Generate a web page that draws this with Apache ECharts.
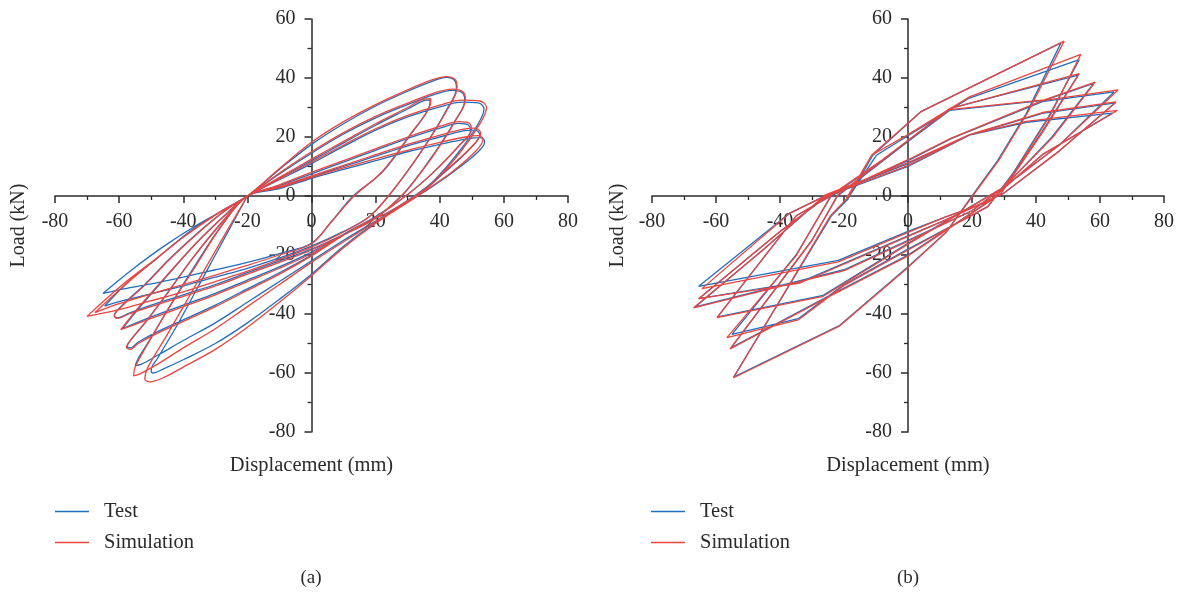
<!DOCTYPE html>
<html>
<head>
<meta charset="utf-8">
<script src="https://cdn.jsdelivr.net/npm/echarts@6/dist/echarts.min.js"></script>
<style>
  html, body { margin: 0; padding: 0; background: #fff; }
  #chart { width: 1184px; height: 597px; }
</style>
</head>
<body>
<div id="chart"></div>
<script>
// ---- data: [displacement mm, load kN] ----
var seriesNames = ['Test', 'Simulation'];
var xTicks = { min: -80, max: 80, step: 20 };
var yTicks = { min: -80, max: 60, step: 20 };

// (a) smooth loops
var testA = [
  [-20,0],[-10,6],[0,12],[10,18],[20,24],[30,29.5],[35,32.3],[37,32.6],[36.8,30.5],[31,21],[22,8],[13,0],[6,-9],[0,-16],[-10,-19.5],[-20,-22.5],[-30,-25],[-40,-27.5],[-50,-29.8],[-60,-31.8],[-65,-33],[-56,-25],[-46,-17],[-36,-10],[-27,-4.5],[-20,0],
  [-10,9],[0,17.5],[10,24.5],[20,30.5],[30,35.5],[38,39],[42,40.2],[44.6,39.2],[45.2,36.5],[42,29],[36,18],[30,8.5],[24,0],[18,-7],[10,-12],[0,-17],[-10,-21],[-20,-24.5],[-30,-27.5],[-40,-30.5],[-50,-33.2],[-60,-35.8],[-64.5,-37.3],[-57,-29],[-48,-21],[-38,-12],[-28,-5],[-20,0],
  [-10,7.5],[0,14.5],[10,21],[20,26.5],[30,31],[38,34.3],[44,35.8],[47,35],[47.8,32.5],[44.5,25],[38,14],[32,5],[28,0],[20,-7.5],[10,-13],[0,-18],[-10,-22],[-20,-26],[-30,-30],[-40,-33.5],[-50,-37],[-57,-39.8],[-60.5,-41.3],[-61.5,-40.5],[-59,-37],[-52,-30],[-44,-21],[-35,-12],[-27,-5],[-20,0],
  [-10,5.5],[0,11],[10,16.8],[20,22.3],[30,26.8],[40,30.2],[47,31.8],[52,31.6],[53.8,29.5],[52,24.5],[46,15],[38,5],[32,0],[24,-5.5],[17,-9],[10,-13],[0,-19],[-10,-24],[-20,-28.5],[-30,-33],[-40,-37],[-50,-41],[-59,-45],[-53,-37],[-45,-27],[-36,-16],[-27,-6.5],[-20,0],
  [-10,3.5],[0,7.5],[10,11.5],[20,15.5],[30,19.5],[40,23],[46,24.6],[49,24],[49.6,22],[46,17],[38,8],[30,0.5],[20,-7],[10,-13],[0,-20],[-10,-26],[-20,-31.5],[-30,-37],[-40,-42],[-48,-46],[-54,-49.5],[-56.5,-51.5],[-57.5,-51],[-56.5,-49],[-52,-43],[-45,-33],[-37,-21],[-28,-9],[-20,0],
  [-10,3],[0,6.5],[10,10],[20,13.5],[30,17],[40,20],[47,22],[51,22.3],[52.5,20.8],[49,15.5],[41,7.5],[33,0],[20,-8.5],[10,-15],[0,-22],[-10,-29],[-20,-36],[-30,-43],[-40,-49],[-48,-54],[-53,-57],[-55,-57.5],[-54,-55],[-50,-48],[-44,-37],[-36,-23],[-28,-10],[-20,0],
  [-10,2.5],[0,6],[10,9],[20,12],[30,15],[40,17.5],[48,19.3],[52.5,19.8],[54,18.5],[52,15],[44,8],[36,2],[33,0],[20,-9],[10,-17],[0,-26.5],[-10,-35],[-20,-43],[-30,-50],[-40,-55.5],[-46,-58.5],[-49.5,-60],[-50,-59],[-48,-55],[-42,-44],[-34,-28],[-26,-12],[-20,0]
];
var simA = [
  [-20,0],[-10,6.3],[0,12.5],[10,18.5],[20,24.5],[30,30],[35,32.8],[37.2,33],[37,30.8],[31,21.2],[22,8.2],[13.3,0],[6,-9],[0,-16.2],[-10,-20],[-20,-23.5],[-30,-26.8],[-40,-30],[-50,-33.2],[-60,-36.5],[-67.5,-39.5],[-58,-30],[-47,-20],[-37,-11.5],[-28,-5],[-20,0],
  [-10,9.3],[0,18.2],[10,25.2],[20,31],[30,36],[38,39.5],[42,40.5],[44.8,39.5],[45.4,36.8],[42.2,29],[36,18],[30,8.5],[24,0],[18,-7],[10,-12.2],[0,-17.3],[-10,-21.5],[-20,-25.5],[-30,-29],[-40,-32.5],[-50,-35.5],[-60,-38.5],[-70,-40.8],[-60,-31],[-50,-22.5],[-40,-14],[-30,-6.5],[-20,0],
  [-10,7.8],[0,15],[10,21.5],[20,27],[30,31.5],[38,34.8],[44,36.2],[47.2,35.3],[48,32.8],[44.7,25.2],[38.2,14],[32,5],[28,0],[20,-7.5],[10,-13.2],[0,-18.3],[-10,-22.5],[-20,-26.5],[-30,-30.5],[-40,-34],[-50,-37.5],[-57,-40],[-60.5,-41.5],[-61.5,-40.7],[-59,-37.2],[-52,-30.2],[-44,-21.2],[-35,-12.2],[-27,-5],[-20,0],
  [-10,5.8],[0,11.5],[10,17.3],[20,22.8],[30,27.3],[40,30.8],[47,32.5],[52.5,32.2],[54.6,30],[52.7,24.8],[46.5,15],[38.3,5],[32.3,0],[24,-5.5],[17,-9],[10,-13.3],[0,-19.5],[-10,-24.5],[-20,-29],[-30,-33.5],[-40,-37.5],[-50,-41.5],[-59.5,-45.3],[-53.5,-37.2],[-45.2,-27],[-36,-16],[-27,-6.5],[-20,0],
  [-10,3.8],[0,8],[10,12],[20,16],[30,20],[40,23.6],[46,25.2],[49.3,24.6],[49.9,22.5],[46.2,17.3],[38,8],[30,0.5],[20,-7.2],[10,-13.3],[0,-20.3],[-10,-26.5],[-20,-32],[-30,-37.5],[-40,-42.5],[-48,-46.5],[-54,-50],[-56.7,-52],[-57.7,-51.3],[-56.7,-49.2],[-52,-43.2],[-45,-33],[-37,-21],[-28,-9],[-20,0],
  [-10,3.2],[0,6.8],[10,10.4],[20,14],[30,17.5],[40,20.6],[47,22.6],[51,23],[52.8,21.3],[49.3,16],[41,7.8],[33,0],[20,-8.7],[10,-15.5],[0,-22.5],[-10,-30],[-20,-37.5],[-30,-45],[-40,-51.5],[-48,-57],[-53.5,-60.3],[-55.5,-61],[-55,-58],[-51,-50],[-44.5,-38],[-36,-23.5],[-28,-10],[-20,0],
  [-10,2.8],[0,6.3],[10,9.5],[20,12.6],[30,15.5],[40,18.2],[48,20],[52,20.5],[53.5,19.3],[51.5,15.5],[44,8.3],[36,2.2],[33,0],[20,-9.3],[10,-17.5],[0,-27],[-10,-36],[-20,-44.5],[-30,-52],[-40,-58],[-46,-61.5],[-50.5,-63],[-52,-62],[-51,-58],[-45,-47],[-36,-30],[-27,-13],[-20,0]
];

// (b) polyline loops
var testB = [
  [-19,-1.5],[-11,13.8],[4.2,28.7],[47.8,51.9],[37,28],[28,12],[20,0],[12,-12.2],[0,-24],[-21.3,-43.8],[-54.5,-61.4],
  [-24,-6.8],[-19.2,-1.5],[-9.9,13.8],[0,20.4],[19.2,33.2],[53.5,46.2],[44,27],[33,8],[24.9,-3.7],[0,-18],[-20,-30],[-34.3,-41.6],[-55,-46.9],
  [-35,-20],[-24,0],[-8,12],[13,29.6],[53.2,41],[42,22],[29,0.8],[0,-20],[-25,-34],[-55.3,-51.5],
  [-30,-15],[-22,0],[0,18.5],[13,29],[42.6,32.4],[58,38.2],[45,20],[30,3],[0,-16],[-26.5,-33.7],[-59.5,-41],
  [-45,-20.7],[-34.8,-6.6],[-24,0],[0,12],[13.5,19.4],[42,32],[64.4,35.3],[47,17],[36,8],[20,-5],[0,-15],[-20,-25],[-66.5,-37.6],
  [-45,-18],[-26,0],[0,11],[19.2,20.6],[42,28],[64.8,31.6],[47,15],[30,1],[12,-8],[0,-13.5],[-33.7,-29.2],[-65.4,-34.8],
  [-40,-12],[-25,0],[0,10],[19.2,20.6],[37,25],[63.9,28.1],[42,14],[25,-2],[12,-7],[0,-12],[-21.8,-21.8],[-65.4,-30.6],[-36.9,-5.8],[-24.4,0.8]
];
var simB = [
  [-19,-1],[-11.4,13.8],[4.2,28.7],[48.8,52.5],[37.5,28.5],[28.3,12],[20.2,0],[12,-12.2],[0,-24.2],[-21.3,-44],[-54.5,-61.6],
  [-24.3,-6.8],[-19.5,-1.3],[-11.4,13.8],[0,20.8],[19.2,33.6],[54,48],[44.5,27.5],[33.3,8],[25,-3.5],[0,-18.3],[-20,-30.3],[-34.3,-42],[-56.6,-48],
  [-35,-20.3],[-24,0.3],[-8,12.3],[13,29.6],[53.5,41.5],[42.3,22],[29,0.8],[0,-20.3],[-25,-34.3],[-55.6,-51.8],
  [-30,-15],[-22,0.3],[0,18.8],[13,29.3],[42.6,32.6],[58.5,38.6],[45.3,20],[30,3],[0,-16.3],[-26.5,-34],[-59.7,-41.2],
  [-45,-20.7],[-34.8,-6.6],[-24,0.3],[0,12.3],[13.5,19.6],[42,32.3],[65.7,36],[47.3,17.3],[36,8],[20,-5],[0,-15.3],[-20,-25.3],[-67,-37.9],
  [-45,-18],[-26,0.3],[0,11.3],[19.2,20.8],[42,28.3],[65,31.9],[47.3,15.3],[30,1],[12,-8],[0,-13.7],[-33.7,-29.5],[-65.4,-34.8],
  [-40,-12],[-25,0.3],[0,10.3],[19.2,20.8],[37,25.3],[65.4,29],[42.3,14.3],[25,-2],[12,-7],[0,-12.3],[-21.8,-22.3],[-64.4,-31.4],[-36.9,-5.8],[-24.4,0.8]
];

var FONT = '"Liberation Serif", "DejaVu Serif", serif';
var INK = '#2b2b2b';
var BLUE = '#1f6fbf';
var RED = '#ec4540';

// the axes cross at the origin: shift each axis onto the zero line of the other
// grid height 413 -> y=0 lies 236 px above the bottom edge
function xAxisFor(gi) {
  return {
    type: 'value', gridIndex: gi, position: 'bottom', offset: -236,
    min: xTicks.min, max: xTicks.max, interval: xTicks.step,
    name: 'Displacement (mm)', nameLocation: 'middle', nameGap: 259, nameMoveOverlap: false,
    nameTextStyle: { fontFamily: FONT, fontSize: 20.5, color: INK },
    axisLine: { onZero: false, lineStyle: { color: INK, width: 1.5 } },
    axisTick: { show: true, length: 7, lineStyle: { color: INK, width: 1.5 } },
    minorTick: { show: true, splitNumber: 2, length: 4, lineStyle: { color: INK, width: 1.3 } },
    splitLine: { show: false },
    axisLabel: { fontFamily: FONT, fontSize: 20, color: INK, margin: 16 }
  };
}
function yAxisFor(gi, shift, gap) {
  return {
    type: 'value', gridIndex: gi, position: 'left', offset: -shift,
    min: yTicks.min, max: yTicks.max, interval: yTicks.step,
    name: 'Load (kN)', nameLocation: 'middle', nameGap: gap, nameMoveOverlap: false,
    nameTextStyle: { fontFamily: FONT, fontSize: 20, color: INK },
    axisLine: { onZero: false, lineStyle: { color: INK, width: 1.5 } },
    axisTick: { show: true, length: 7, lineStyle: { color: INK, width: 1.5 } },
    minorTick: { show: true, splitNumber: 2, length: 4, lineStyle: { color: INK, width: 1.3 } },
    splitLine: { show: false },
    axisLabel: { fontFamily: FONT, fontSize: 20, color: INK, margin: 16 }
  };
}
function lineSeries(name, gi, data, color, smooth) {
  return {
    name: name, type: 'line', xAxisIndex: gi, yAxisIndex: gi,
    data: data, symbol: 'none', showSymbol: false, smooth: smooth,
    lineStyle: { color: color, width: 1.3 }, itemStyle: { color: color },
    animation: false
  };
}
function legendFor(left) {
  return {
    left: left, top: 496, orient: 'vertical',
    icon: 'rect', itemWidth: 34, itemHeight: 1.5, itemGap: 10,
    data: seriesNames,
    textStyle: { fontFamily: FONT, fontSize: 20.5, color: INK, lineHeight: 20, padding: [0, 0, 0, 10] }
  };
}

var chart = echarts.init(document.getElementById('chart'));
var option = {
  backgroundColor: '#fff',
  animation: false,
  grid: [
    { left: 55, top: 19, width: 513, height: 413, containLabel: false, outerBoundsMode: 'none' },
    { left: 652, top: 19, width: 512, height: 413, containLabel: false, outerBoundsMode: 'none' }
  ],
  xAxis: [xAxisFor(0), xAxisFor(1)],
  yAxis: [yAxisFor(0, 256.5, 283), yAxisFor(1, 256, 280)],
  legend: [legendFor(50), legendFor(646)],
  series: [
    lineSeries('Test', 0, testA, BLUE, 0.35),
    lineSeries('Simulation', 0, simA, RED, 0.35),
    lineSeries('Test', 1, testB, BLUE, false),
    lineSeries('Simulation', 1, simB, RED, false)
  ],
  graphic: [
    { type: 'text', x: 311, y: 578, style: { text: '(a)', font: '19px ' + FONT, fill: INK, textAlign: 'center', textVerticalAlign: 'middle' } },
    { type: 'text', x: 908, y: 578, style: { text: '(b)', font: '19px ' + FONT, fill: INK, textAlign: 'center', textVerticalAlign: 'middle' } }
  ]
};
chart.setOption(option);
</script>
</body>
</html>
